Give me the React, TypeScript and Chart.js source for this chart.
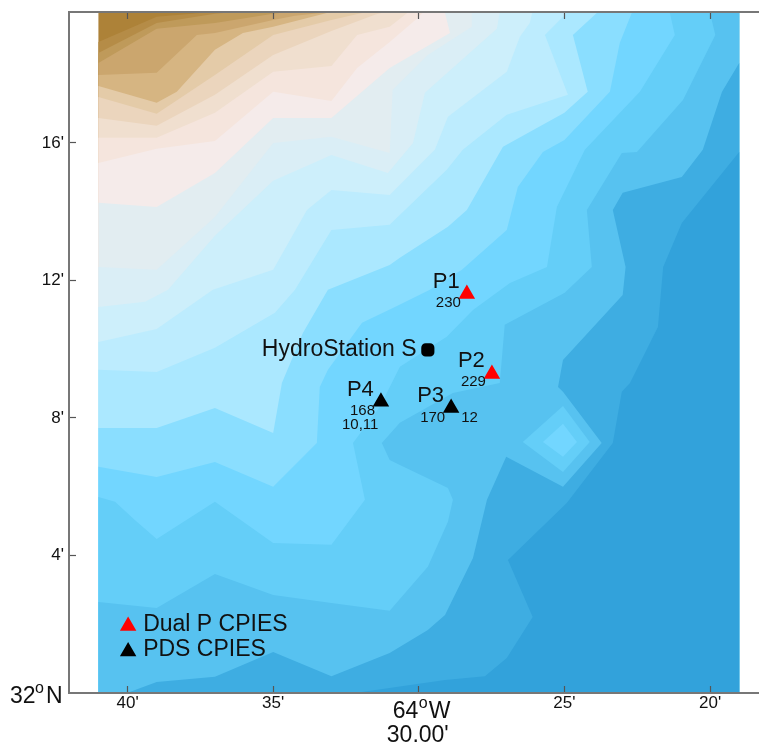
import React, { useEffect, useRef } from "react";
import { Chart, registerables } from "chart.js";

Chart.register(...registerables);

type Flat = number[];

// Grid limits of the bathymetry (minutes west of 64 deg, minutes north of 32 deg)
const lonWest = 41;
const lonEast = 19;
const latSouth = 0;
const latNorth = 19.81;

const xTickValues = [40, 35, 30, 25, 20];
const yTickValues = [4, 8, 12, 16];

// Contour boundaries as lon,lat pairs, shallow to deep
const contour01: Flat = [41, 18.94, 39, 19.67, 37.1, 19.81];
const contour02: Flat = [41, 18.62, 39, 19.49, 37, 19.76, 36.3, 19.81];
const contour03: Flat = [41, 18.33, 39, 19.32, 37, 19.49, 35, 19.76, 34.5, 19.81];
const contour04: Flat = [41, 17.98, 39, 18.04, 37.62, 19.14, 37, 19.2, 35, 19.58, 34.25, 19.7, 33.05, 19.81];
const contour05: Flat = [41, 17.66, 39, 17.17, 38.31, 17.49, 37, 18.71, 36.04, 19.2, 35, 19.38, 33.16, 19.78, 32.71, 19.81];
const contour06: Flat = [41, 17.34, 39, 16.85, 37, 17.98, 35, 19.14, 33, 19.58, 31.8, 19.81];
const contour07: Flat = [41, 16.73, 39, 16.5, 37, 17.4, 35, 18.56, 33, 19.26, 31.51, 19.73, 31.16, 19.81];
const contour08: Flat = [41, 16.15, 39, 16.15, 37, 16.88, 35, 18.07, 33, 18.24, 32.12, 19.14, 31, 19.38, 30.4, 19.78, 30.3, 19.81];
const contour09: Flat = [41, 15.42, 39, 15.83, 37, 16.06, 35, 17.49, 33, 17.22, 32.12, 18.18, 31, 18.94, 30.03, 19.64, 29.85, 19.81];
const contour10: Flat = [41, 14.26, 39, 14.14, 37, 15.13, 35, 16.73, 33, 16.73, 31, 18.18, 28.93, 19.2, 29.1, 19.78, 29.15, 19.81];
const contour11: Flat = [41, 12.39, 39, 12.31, 37, 13.85, 35, 16.0, 33, 16.18, 31, 15.71, 30.9, 17.54, 29.69, 18.56, 28.18, 19.38, 28.18, 19.81];
const contour12: Flat = [41, 11.23, 39.4, 11.38, 38.61, 11.73, 37, 13.3, 35, 14.9, 33, 15.65, 31.06, 15.13, 30.2, 16.0, 29.79, 17.46, 27.32, 19.32, 27.22, 19.81];
const contour13: Flat = [41, 10.21, 39, 10.59, 37.07, 11.73, 35, 12.31, 33.84, 14.05, 33, 14.63, 31, 14.49, 29.45, 15.8, 29, 16.76, 26.98, 18.07, 26.53, 19.09, 26.19, 19.49, 26.1, 19.81];
const contour14: Flat = [41, 9.4, 39, 9.34, 37, 10.04, 34.94, 11.06, 34.25, 11.73, 33, 13.47, 31, 13.62, 29.04, 15.22, 28.49, 15.8, 26.98, 16.82, 24.88, 17.4, 25.67, 19.14, 24.92, 19.78, 24.8, 19.81];
const contour15: Flat = [41, 7.71, 39, 7.71, 37, 8.29, 35, 7.56, 34.7, 9.02, 33.98, 10.47, 33.12, 11.73, 31, 12.45, 30.65, 12.66, 29, 13.56, 28.35, 14.05, 27.11, 15.89, 25, 16.88, 24.2, 17.49, 24.71, 19.14, 23.89, 19.78, 23.8, 19.81];
const contour16: Flat = [41, 6.58, 39, 6.28, 37, 6.72, 35, 6.0, 33.5, 7.27, 33.4, 8.9, 33.12, 9.4, 31.95, 10.77, 30.82, 11.23, 29.62, 11.73, 28.52, 12.31, 26.98, 13.47, 26.6, 14.72, 25.74, 15.74, 25, 16.09, 23.44, 17.49, 23.1, 18.91, 22.69, 19.78, 22.65, 19.81];
const contour17: Flat = [41, 5.7, 40.43, 5.56, 39.75, 5.03, 39, 4.48, 37, 5.56, 35, 4.36, 33, 4.31, 31.85, 5.62, 32.26, 7.27, 31.34, 8.32, 30.65, 9.49, 29.04, 10.36, 28.14, 11.14, 26.87, 11.93, 25.6, 12.39, 25.26, 14.14, 24.3, 15.8, 22.41, 17.49, 21.21, 19.14, 21.38, 19.78, 21.4, 19.81];
const contour18: Flat = [41, 2.65, 39, 2.47, 37, 3.46, 35, 2.85, 33, 2.62, 31, 2.39, 29.69, 3.67, 29, 4.98, 28.83, 5.62, 29, 5.96, 30.65, 6.63, 31, 6.78, 31.27, 7.27, 30.65, 7.86, 28.83, 8.73, 27.22, 9.02, 27.05, 10.71, 24.99, 11.64, 24.06, 12.39, 24.23, 14.05, 23.03, 15.71, 22.51, 15.74, 20.93, 17.25, 19.82, 19.14, 20, 19.78, 20.03, 19.81];
const contour19: Flat = [40.02, 0, 39, 0.32, 37, 0.47, 35, 1.19, 33, 0.49, 31, 1.16, 29.69, 1.83, 29.1, 2.27, 28.14, 3.93, 27.66, 5.62, 27, 6.87, 25.05, 6.0, 23.72, 7.27, 25.05, 8.76, 25.22, 8.9, 25.05, 9.69, 23, 11.58, 22.9, 12.39, 23.34, 14.05, 23, 14.55, 20.97, 15.01, 20.25, 15.8, 19.59, 17.49, 19, 18.33];
const contour20: Flat = [32.2, 0, 29.1, 0.38, 27.73, 0.49, 26.98, 1.02, 26.09, 2.21, 26.94, 3.87, 24.92, 5.53, 23.34, 7.27, 23.03, 8.76, 22.75, 9.02, 21.79, 10.65, 21.61, 12.39, 20.97, 13.67, 19, 15.74];
const seamountRim: Flat = [26.43, 7.3, 25.05, 6.43, 24.13, 7.3, 25.05, 8.35];
const seamountTop: Flat = [25.74, 7.3, 25.05, 6.87, 24.57, 7.3, 25.05, 7.83];

const contours: Flat[] = [
  contour01, contour02, contour03, contour04, contour05, contour06, contour07, contour08, contour09, contour10,
  contour11, contour12, contour13, contour14, contour15, contour16, contour17, contour18, contour19, contour20,
];

const bandColors = [
  "#AD8238", "#B58C47", "#BF9A5A", "#CBA66E", "#D6B582", "#E4CBA8", "#EBD5BD", "#F0DFCF", "#F5E5DD", "#F5EBEA",
  "#E2EDF1", "#DAEEF6", "#CDEFFB", "#BDECFE", "#ABE8FF", "#8ADEFF", "#72D6FF", "#64CEF8", "#57C2F0", "#3EADE2", "#32A2DB",
];

// Stations
const dualName = ["P1", "P2"];
const dualLon = [28.35, 27.49];
const dualLat = [11.61, 9.28];
const pdsName = ["P3", "P4"];
const pdsLon = [28.89, 31.3];
const pdsLat = [8.29, 8.47];
const hydroName = "HydroStation S";
const hydroLon = 29.69;
const hydroLat = 9.98;
const legendNames = ["Dual P CPIES", "PDS CPIES"];
const legendLon = [39.98, 39.98];
const legendLat = [1.95, 1.21];

const pairs = (f: Flat) => {
  const out: { x: number; y: number }[] = [];
  for (let i = 0; i < f.length; i += 2) out.push({ x: f[i], y: f[i + 1] });
  return out;
};

const TEXT = "#111111";
const FONT = '"Liberation Sans", Arial, sans-serif';

const labelsPlugin = {
  id: "mapLabels",
  afterDatasetsDraw(chart: any) {
    const { ctx, scales } = chart;
    const X = (v: number) => scales.x.getPixelForValue(v);
    const Y = (v: number) => scales.y.getPixelForValue(v);
    const put = (t: string, x: number, y: number, size: number) => {
      ctx.font = `${size}px ${FONT}`;
      ctx.fillText(t, x, y);
    };
    ctx.save();
    ctx.fillStyle = TEXT;
    ctx.textAlign = "left";
    ctx.textBaseline = "alphabetic";

    const px1 = X(dualLon[0]), py1 = Y(dualLat[0]);
    put(dualName[0], px1 - 34, py1 - 6, 22);
    put("230", px1 - 31, py1 + 13, 15);
    const px2 = X(dualLon[1]), py2 = Y(dualLat[1]);
    put(dualName[1], px2 - 34, py2 - 7, 22);
    put("229", px2 - 31, py2 + 12, 15);
    const px3 = X(pdsLon[0]), py3 = Y(pdsLat[0]);
    put(pdsName[0], px3 - 34, py3 - 6, 22);
    put("170", px3 - 31, py3 + 14, 15);
    put("12", px3 + 10, py3 + 14, 15);
    const px4 = X(pdsLon[1]), py4 = Y(pdsLat[1]);
    put(pdsName[1], px4 - 34, py4 - 6, 22);
    put("168", px4 - 31, py4 + 13, 15);
    put("10,11", px4 - 39, py4 + 27, 15);
    put(hydroName, X(hydroLon) - 166, Y(hydroLat) + 6, 23);

    put(legendNames[0], X(legendLon[0]) + 15, Y(legendLat[0]) + 5, 23);
    put(legendNames[1], X(legendLon[1]) + 15, Y(legendLat[1]) + 5, 23);

    // Corner and centre axis annotations with superscript degree marks
    const bottom = scales.y.getPixelForValue(0);
    put("32", 10, bottom + 10, 23);
    put("o", 35, bottom - 0, 16);
    put("N", 46, bottom + 10, 23);
    const cx = X(30);
    put("64", cx - 26, bottom + 25, 23);
    put("o", cx - 0, bottom + 15, 16);
    put("W", cx + 10, bottom + 25, 23);
    put("30.00'", cx - 32, bottom + 49, 23);
    ctx.restore();
  },
};

const noPadding = (s: any) => {
  s.paddingTop = 0;
  s.paddingBottom = 0;
  s.paddingLeft = 0;
  s.paddingRight = 0;
};

export default function App() {
  const ref = useRef<HTMLCanvasElement>(null);
  useEffect(() => {
    document.body.style.margin = "0";
    const base = { showLine: true, pointRadius: 0, borderWidth: 0, tension: 0, fill: "shape" as const };
    const polygons: any[] = [];
    polygons.push({
      ...base,
      data: [
        { x: lonWest, y: latSouth },
        { x: lonWest, y: latNorth },
        { x: lonEast, y: latNorth },
        { x: lonEast, y: latSouth },
      ],
      backgroundColor: bandColors[0],
      borderColor: bandColors[0],
    });
    contours.forEach((c, i) => {
      const pts = pairs(c);
      const last = pts[pts.length - 1];
      if (last.y >= latNorth) pts.push({ x: lonEast, y: latNorth });
      pts.push({ x: lonEast, y: latSouth });
      if (pts[0].x === lonWest) pts.push({ x: lonWest, y: latSouth });
      polygons.push({ ...base, data: pts, backgroundColor: bandColors[i + 1], borderColor: bandColors[i + 1] });
    });
    polygons.push({ ...base, data: pairs(seamountRim), backgroundColor: bandColors[17], borderColor: bandColors[17] });
    polygons.push({ ...base, data: pairs(seamountTop), backgroundColor: bandColors[16], borderColor: bandColors[16] });
    const n = polygons.length;
    polygons.forEach((p, i) => (p.order = n + 10 - i));

    const marker = (xs: number[], ys: number[], color: string, style: string, r: number) => ({
      data: xs.map((x, i) => ({ x, y: ys[i] })),
      showLine: false,
      pointStyle: style,
      pointRadius: r,
      pointBackgroundColor: color,
      pointBorderColor: color,
      pointBorderWidth: 2,
      order: 1,
    });

    const tickCommon = { color: "#555555", drawOnChartArea: false, tickLength: -7, tickWidth: 1.2, z: 2 };
    const border = { display: true, color: "#777777", width: 2, z: 3 };

    const chart = new Chart(ref.current as HTMLCanvasElement, {
      type: "scatter",
      data: {
        datasets: [
          ...polygons,
          marker(dualLon, dualLat, "#FF0000", "triangle", 7.5),
          marker(pdsLon, pdsLat, "#000000", "triangle", 7.5),
          marker([hydroLon], [hydroLat], "#000000", "rectRounded", 6.5),
          marker([legendLon[0]], [legendLat[0]], "#FF0000", "triangle", 7.5),
          marker([legendLon[1]], [legendLat[1]], "#000000", "triangle", 7.5),
        ],
      },
      plugins: [labelsPlugin],
      options: {
        animation: false,
        responsive: false,
        events: [],
        layout: { padding: 0, autoPadding: false },
        plugins: { legend: { display: false }, tooltip: { enabled: false } },
        scales: {
          x: {
            type: "linear",
            position: "bottom",
            reverse: true,
            min: 18.32,
            max: 42.01,
            afterBuildTicks: (s: any) => (s.ticks = xTickValues.map((value) => ({ value }))),
            afterFit: (s: any) => {
              s.height = 55;
              noPadding(s);
            },
            grid: tickCommon,
            border,
            ticks: {
              color: TEXT,
              maxRotation: 0,
              autoSkip: false,
              padding: 7,
              font: { family: FONT, size: 17 },
              callback: (v: any) => (v === 30 ? "" : `${v}'`),
            },
          },
          x2: {
            type: "linear",
            position: "top",
            reverse: true,
            min: 18.32,
            max: 42.01,
            afterBuildTicks: (s: any) => (s.ticks = xTickValues.map((value) => ({ value }))),
            afterFit: (s: any) => {
              s.height = 12;
              noPadding(s);
            },
            grid: tickCommon,
            border,
            ticks: { display: false },
          },
          y: {
            type: "linear",
            position: "left",
            min: 0,
            max: latNorth,
            afterBuildTicks: (s: any) => (s.ticks = yTickValues.map((value) => ({ value }))),
            afterFit: (s: any) => {
              s.width = 69;
              noPadding(s);
            },
            grid: tickCommon,
            border,
            ticks: {
              color: TEXT,
              padding: 12,
              font: { family: FONT, size: 17 },
              callback: (v: any) => `${v}'`,
            },
          },
        },
      } as any,
    } as any);
    return () => chart.destroy();
  }, []);
  return <canvas ref={ref} width={759} height={748} style={{ display: "block" }} />;
}
